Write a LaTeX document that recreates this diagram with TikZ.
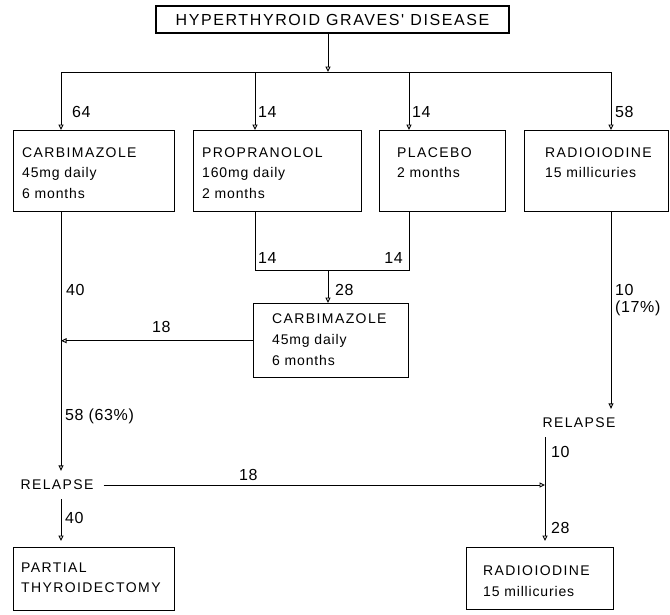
\documentclass[tikz,border=0pt]{standalone}
\usepackage{fontspec}
\setmainfont{Liberation Sans}
\newfontfamily\capsf[LetterSpace=10]{Liberation Sans}
\newfontfamily\lowf[LetterSpace=6]{Liberation Sans}
\newfontfamily\numf[LetterSpace=4]{Liberation Sans}
\usetikzlibrary{arrows.meta}
\begin{document}
\begin{tikzpicture}[x=1pt,y=-1pt,
  box/.style={draw, line width=1.4pt, inner sep=0pt, anchor=north west},
  ln/.style={line width=0.9pt},
  arr/.style={ln, -{Triangle[open, length=5.5pt, width=5pt]}},
  captxt/.style={anchor=base west, inner sep=0pt, font={\capsf\fontsize{14}{16}\selectfont}},
  txt/.style={anchor=base west, inner sep=0pt, font={\lowf\fontsize{14}{16}\selectfont}},
  num/.style={anchor=base west, inner sep=0pt, font={\numf\fontsize{16}{18}\selectfont}},
  rel/.style={anchor=center, inner xsep=10pt, inner ysep=9pt, font={\capsf\fontsize{14}{16}\selectfont}}
]
\useasboundingbox (0,0) rectangle (670,614);

% boxes
\node[box, anchor=center, minimum width=353pt, minimum height=27pt,
      font={\capsf\fontsize{16}{18}\selectfont}] (title) at (332.5,19.5) {HYPERTHYROID GRAVES' DISEASE};
\node[box, minimum width=161pt, minimum height=81pt] (carbA) at (13,130) {};
\node[box, minimum width=168pt, minimum height=81pt] (prop) at (193,130) {};
\node[box, minimum width=126pt, minimum height=81pt] (plac) at (379,130) {};
\node[box, minimum width=144pt, minimum height=81pt] (radA) at (524,130) {};
\node[box, minimum width=155pt, minimum height=74pt] (carbB) at (253,303) {};
\node[box, minimum width=161pt, minimum height=63pt] (partial) at (13,547) {};
\node[box, minimum width=147pt, minimum height=62pt] (radB) at (466,547) {};

% box texts
\node[captxt] (tA1) at (22,157) {CARBIMAZOLE};
\node[txt] (tA2) at (22,177) {45mg daily};
\node[txt] (tA3) at (22,198) {6 months};
\node[captxt] (tP1) at (202,157) {PROPRANOLOL};
\node[txt] (tP2) at (202,177) {160mg daily};
\node[txt] (tP3) at (202,198) {2 months};
\node[captxt] (tQ1) at (397,157) {PLACEBO};
\node[txt] (tQ2) at (397,177) {2 months};
\node[captxt] (tR1) at (545,157) {RADIOIODINE};
\node[txt] (tR2) at (545,177) {15 millicuries};
\node[captxt] (tB1) at (272,323) {CARBIMAZOLE};
\node[txt] (tB2) at (272,344) {45mg daily};
\node[txt] (tB3) at (272,365) {6 months};
\node[captxt] (tT1) at (21,572) {PARTIAL};
\node[captxt] (tT2) at (21,592) {THYROIDECTOMY};
\node[captxt] (tS1) at (483,575) {RADIOIODINE};
\node[txt] (tS2) at (483,596) {15 millicuries};

% relapse nodes
\node[rel] (relL) at (57,485) {RELAPSE};
\node[rel] (relR) at (579,423) {RELAPSE};

% coordinates
\coordinate (hub) at (328,72);
\coordinate (hL) at (61,72);
\coordinate (hP) at (255,72);
\coordinate (hQ) at (409,72);
\coordinate (hR) at (611,72);
\coordinate (jP) at (255,270);
\coordinate (jQ) at (409,270);
\coordinate (jM) at (328,270);
\coordinate (vR) at (545,486);

% connectors
\draw[arr] (title.south -| hub) -- (hub);
\draw[ln] (hL) -- (hR);
\draw[arr] (hL) -- (hL |- carbA.north);
\draw[arr] (hP) -- (hP |- prop.north);
\draw[arr] (hQ) -- (hQ |- plac.north);
\draw[arr] (hR) -- (hR |- radA.north);
\draw[ln] (prop.south -| jP) -- (jP) -- (jQ) -- (plac.south -| jQ);
\draw[arr] (jM) -- (jM |- carbB.north);
\draw[arr] (carbA.south -| hL) -- (hL |- relL.north);
\draw[arr] (carbB.west) -- (carbB.west -| hL);
\draw[arr, shorten >=6pt] (hL |- relL.south) -- (hL |- partial.north);
\draw[arr] (relL.east) -- (relL.east -| vR);
\draw[arr] (radA.south -| hR) -- (hR |- relR.north);
\draw[arr, shorten >=6pt] (vR |- relR.south) -- (vR |- radB.north);

% number labels
\node[num] (n64) at (72,117) {64};
\node[num] (n14a) at (258,117) {14};
\node[num] (n14b) at (412,117) {14};
\node[num] (n58) at (615,117) {58};
\node[num] (n14c) at (258,263) {14};
\node[num, anchor=base east] (n14d) at (403,263) {14};
\node[num] (n28a) at (335,295) {28};
\node[num] (n40a) at (66,295) {40};
\node[num] (n18a) at (152,332) {18};
\node[num] (n10a) at (615,295) {10};
\node[num] (n17) at (615,312) {(17\%)};
\node[num] (n5863) at (65,420) {58 (63\%)};
\node[num] (n18b) at (239,480) {18};
\node[num] (n10b) at (551,457) {10};
\node[num] (n28b) at (551,533) {28};
\node[num] (n40b) at (65,523) {40};
\end{tikzpicture}
\end{document}
